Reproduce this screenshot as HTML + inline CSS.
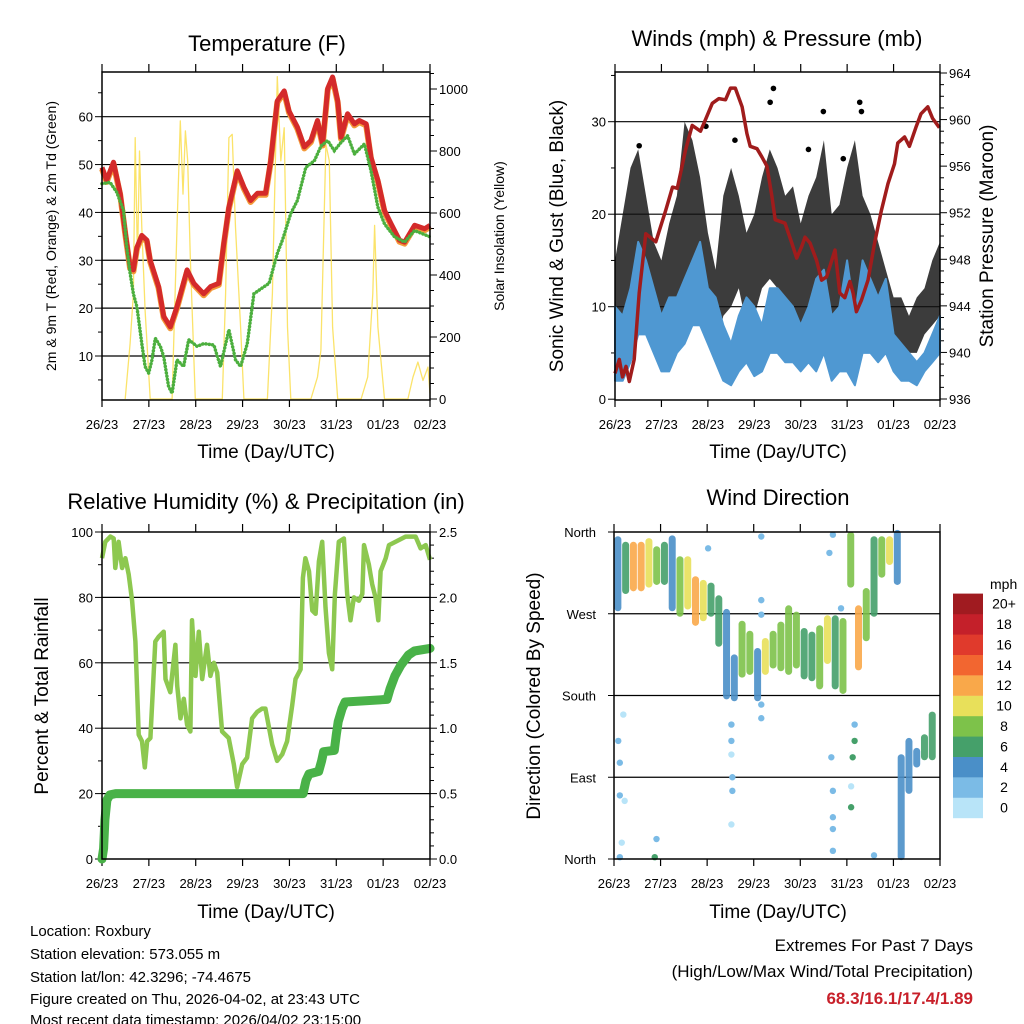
<!DOCTYPE html>
<html><head><meta charset="utf-8"><title>Station Meteogram</title>
<style>
html,body{margin:0;padding:0;background:#fff;}
svg{display:block;font-family:"Liberation Sans",Arial,sans-serif;}
</style></head>
<body>
<svg id="chart" width="1024" height="1024" viewBox="0 0 1024 1024" xmlns="http://www.w3.org/2000/svg">
<rect x="0" y="0" width="1024" height="1024" fill="#fff"/>
<text x="267" y="51" font-size="22" text-anchor="middle">Temperature (F)</text>
<text x="777" y="46" font-size="22" text-anchor="middle">Winds (mph) &amp; Pressure (mb)</text>
<text x="266" y="509" font-size="22" text-anchor="middle">Relative Humidity (%) &amp; Precipitation (in)</text>
<text x="778" y="505" font-size="22" text-anchor="middle">Wind Direction</text>
<text x="266" y="458" font-size="19" text-anchor="middle">Time (Day/UTC)</text>
<text x="778" y="458" font-size="19" text-anchor="middle">Time (Day/UTC)</text>
<text x="266" y="918" font-size="19" text-anchor="middle">Time (Day/UTC)</text>
<text x="778" y="918" font-size="19" text-anchor="middle">Time (Day/UTC)</text>
<text transform="translate(56,236) rotate(-90)" font-size="14" text-anchor="middle">2m &amp; 9m T (Red, Orange) &amp; 2m Td (Green)</text>
<text transform="translate(504,236) rotate(-90)" font-size="14" text-anchor="middle">Solar Insolation (Yellow)</text>
<text transform="translate(563,236) rotate(-90)" font-size="19" text-anchor="middle">Sonic Wind &amp; Gust (Blue, Black)</text>
<text transform="translate(993,236) rotate(-90)" font-size="19" text-anchor="middle">Station Pressure (Maroon)</text>
<text transform="translate(48,696) rotate(-90)" font-size="19" text-anchor="middle">Percent &amp; Total Rainfall</text>
<text transform="translate(540,696) rotate(-90)" font-size="19" text-anchor="middle">Direction (Colored By Speed)</text>
<g font-size="15">
<text x="30" y="936">Location: Roxbury</text>
<text x="30" y="959">Station elevation: 573.055 m</text>
<text x="30" y="982">Station lat/lon: 42.3296; -74.4675</text>
<text x="30" y="1004">Figure created on Thu, 2026-04-02, at 23:43 UTC</text>
<text x="30" y="1025">Most recent data timestamp: 2026/04/02 23:15:00</text>
</g>
<text x="973" y="951" font-size="17" text-anchor="end">Extremes For Past 7 Days</text>
<text x="973" y="977" font-size="17" text-anchor="end">(High/Low/Max Wind/Total Precipitation)</text>
<text x="973" y="1004" font-size="17" font-weight="bold" fill="#c8202a" text-anchor="end">68.3/16.1/17.4/1.89</text>
</svg>
<script>
// ---------- data ----------
const dayLabels = ["26/23","27/23","28/23","29/23","30/23","31/23","01/23","02/23"];
const tempHours = [0,2.4,5.9,9.3,11.9,14.4,16.1,17.9,20.4,23,24.7,29,31.6,35,38.4,43.6,47,52.1,55.6,59.8,62.4,65,69.3,72.7,76.1,79.6,83.8,86.4,89.8,93.3,95.8,100.1,103.6,107,110.4,113,115.6,118.1,120.7,122.4,125.8,129.3,131.8,135.3,137.8,141.3,144.7,148.1,152.4,155,160.1,165.3,168];
const tempF = [49.4,46.7,50.5,44,35.9,28.6,28,32.7,35.2,34.2,30,24.5,18.3,16.1,20.3,28,25.2,23,24.5,25.2,33.5,41.1,48.7,45.3,42.5,44,44,50.8,63.3,65.4,61.2,57.8,53.7,55,59.2,54.3,65.9,68.3,63.3,55.7,60.6,58.5,59.2,58.5,51.5,46.7,40.4,37.6,34.2,33.8,37.3,36.6,37.3];
const dewHours = [0,4.1,7.6,11,12.7,14.4,16.1,17.9,20.4,22.1,23.9,25.6,27.3,29.9,31.6,34.1,35.9,38.4,41.8,44.4,48.7,52.1,57.3,60.7,65,68.4,71,74.4,77.8,81.3,85.6,89.8,92.4,96.7,100.1,104.4,108.8,112.2,115.6,119,122.4,125.8,129.3,134.4,137.8,141.3,144.7,149.8,155,160.1,168];
const dewF = [46,46.3,44.2,40.4,32.7,27.3,23,20.3,12.6,7.8,6.4,9.2,13.7,12,9.9,3.6,2.2,9.2,7.8,13.4,12,12.6,12.3,7.8,15.5,9.2,7.8,12.6,23,24,25.2,31.4,34.2,39.8,42.5,49.4,50.8,53.9,55,52.9,54.6,56,52.2,54.3,48.7,41.1,37.6,34.9,33.8,36.2,34.9];
const solarHours = [11.9,14.4,16.1,17,18.2,19.2,20.4,22.1,24.7,35.9,38.4,40.1,41.5,42.7,43.9,45.3,47.8,61.6,63.3,65,66.7,68.4,71,72.7,84.7,87.3,89.8,91.6,93.3,95,96.7,107,110.4,112.1,114.7,116.4,118.1,120.7,132.7,136.1,138.7,139.6,141.3,144.7,156.7,159.3,161.8,164.4,167,168];
const solarW = [0,179,340,843,446,800,554,286,0,0,554,897,661,865,768,446,0,0,340,843,854,554,232,0,0,340,1040,768,875,232,0,0,71,157,822,768,232,0,0,71,340,560,232,0,0,71,119,60,103,18];

const presHours = [0,2.2,3.9,5.7,7.4,9.9,12.5,15.9,21.1,26.2,29.7,32.2,36.5,39.9,44.2,46.8,50.3,53.7,57.1,59.7,62.2,65.7,68.2,69.9,73.4,75.9,78.5,81.1,82.8,87.9,91.4,93.9,96.5,98.2,100.8,104.2,106.8,109.4,113.7,116.2,118.8,121.4,123.1,124.8,127.4,130.8,134.2,137.7,141.1,144.5,146.2,149.7,152.2,155.7,158.2,161.7,164.2,167.7];
const presMb = [938.2,939.4,937.9,938.8,937.5,939.4,945.1,950.2,949.5,952.2,954.2,954.1,957.4,959.5,959,960,961.4,961.8,961.7,962.7,962.7,961.1,958.8,957.7,957.5,956.8,956,953.4,951.4,951.1,949.4,948.1,949.1,949.9,949.4,947.9,946.2,946.5,948.8,945.1,944.7,946.1,945.1,943.5,944.5,946.2,949.4,952.2,954.5,956.2,958,958.5,957.7,959.4,960.5,961.1,960.1,959.3];
const windStep = 4;
const windHigh = [10,9,12,17,15,12,9,11,11,13,15,17,12,11,8,6,9,11,10,8,12,12,11,10,8,10,13,14,9,10,15,9,15,13,11,13,7,6,5,4,5,7,9];
const windLow  = [2,2,4,7,7,5,3,3,5,6,8,8,6,4,2,1.5,3,4,2.5,3,5,5,4,4,3,4,3,5,2,3,3,1.5,5,5,4,5,3,2,2,1.5,3,4,5];
const gustHigh = [15,20,25,27,22,17,15,19,22,30,28,24,18,14,22,25,22,18,20,24,27,25,22,23,19,22,24,28,20,21,25,28,22,20,17,14,11,11,9,11,12,15,17];
const gustLow  = [6,8,12,15,12,9,7,8,10,11,12,12,8,5,9,10,12,8,9,12,13,12,11,10,8,10,12,12,8,8,10,10,9,9,7,6,5,6,5,5,7,8,9];
const gustOutHours = [81.9,80.2,126.5,107.7,127.4,12.5,47,62,100,118];
const gustOutMph = [33.6,32.1,32.1,31.1,31.1,27.4,29.5,28,27,26];

const rhHours = [0,1.7,4.3,6,6.8,8.5,10.3,12,13.7,15.4,17.1,18.8,20.5,21.9,23.1,24.8,27.3,29.1,31.6,32.5,35,37.6,38.5,40.2,41.9,43.6,45.3,46.1,47.9,49.6,51.3,53.8,55.5,57.3,59,61.5,64.9,67.5,69.2,71.8,74.3,76.9,79.5,82,83.7,87.2,89.7,92.3,94.8,97.4,99.1,101.7,102.9,104.2,106,107.7,109.4,111.1,112.8,114.5,116.2,117.9,119.3,121.3,123.9,125.6,127.3,129,131.6,133.3,134.2,136.7,138.4,140.1,141.5,142.7,145.3,147,150.4,155.5,160.6,163.2,165.8,168];
const rhPct = [92,97,98.6,98,89,97,89,92,87,79,66.5,38,36,28,36,37,66.5,68,69.5,55,51,65.5,53,43,49,41,39,73,56,69.5,55,65.5,56,60,57,39,37,29,22,29,31,43,45,46,46,35,30,32,36,47,55,58,86,92,88,76,75,91,97,77,63,58,81,97,98,81,73,80,79,81,96,90,84,80,73,88,92,96,97,98.6,98.6,95,96,91.5];
const precipHours = [0,0.8,1.5,2.5,4,7,103,104.5,106,111,112.5,113.5,119,120,121,123,124.5,146,147.5,150,153,157,160,168];
const precipIn = [0,0.08,0.3,0.45,0.49,0.5,0.5,0.6,0.65,0.67,0.75,0.82,0.83,0.95,1.05,1.15,1.2,1.22,1.3,1.4,1.48,1.56,1.59,1.61];

const dirStep = 4;
const dirHigh = [352,346,346,346,350,341,346,353,330,330,308,304,301,287,272,222,259,248,229,240,248,258,276,269,251,247,254,265,265,262,357,276,295,352,352,352,359];
const dirLow  = [276,295,298,298,302,305,305,276,270,278,260,265,270,237,179,177,203,206,177,206,213,210,206,213,201,199,190,218,190,185,302,211,243,270,313,327,305];
const dirSpeed = [5,7,12,13,11,8,6,5,8,10,13,11,7,6,4,5,8,9,5,10,8,9,9,8,6,7,9,11,6,8,9,12,8,6,9,10,4];
const dirTailHours = [148,152,156,160,164];
const dirTailHigh = [112,130,119,134,159];
const dirTailLow = [2,75,104,112,112];
const dirTailSpeed = [4,4,5,6,7];
const dirOutHours = [75.9,75.9,75.9,4.8,2.2,3,3,5.5,4,21.9,21,3,60.5,61,61,60.5,60.5,60.5,75.9,75.9,112.8,112.8,112.8,112.8,112,122.2,122.2,123,124,124,112.8,111,48.5,117,134];
const dirOutDeg = [355,285,269,159,130,106,70,64,18,22,2,2,38,75,90,115,130,148,155,170,46,33,9,75,112,57,80,112,130,148,357,337,342,276,4];
const dirOutSpeed = [3,3,3,1,3,3,3,1,1,3,7,3,1,3,3,1,3,3,3,3,3,3,3,3,3,6,1,7,6,3,3,3,3,3,3];
const cbLabels = ["0","2","4","6","8","10","12","14","16","18","20+"];
const cbColors = ["#b8e4f8","#7bbbe6","#4a8fc8","#45a06a","#7dc24a","#e8e05a","#f9a84a","#f26630","#e03a2c","#c4202a","#a01b20"];

// ---------- helpers ----------
const NS = "http://www.w3.org/2000/svg";
const svg = document.getElementById("chart");
function mk(tag, attrs, parent) {
  const e = document.createElementNS(NS, tag);
  for (const k in attrs) e.setAttribute(k, attrs[k]);
  (parent || svg).appendChild(e);
  return e;
}
const P = {
  tl: {x0:102, x1:430, y0:72, y1:400},
  tr: {x0:615, x1:940, y0:72, y1:400},
  bl: {x0:102, x1:430, y0:532, y1:859},
  br: {x0:614, x1:940, y0:532, y1:859}
};
function xs(p, h) { return p.x0 + (p.x1 - p.x0) * h / 168; }
function lin(v, v0, y0, v1, y1) { return y0 + (v - v0) * (y1 - y0) / (v1 - v0); }
const tempY = v => lin(v, 10, 356, 60, 116.7);
const solarY = v => lin(v, 0, 399, 1000, 89);
const windY = v => lin(v, 0, 399.2, 30, 121.7);
const presY = v => lin(v, 936, 399, 964, 73);
const rhY = v => lin(v, 0, 859, 100, 532);
const precY = v => lin(v, 0, 859, 0.5, 793.6);
const dirY = v => lin(v, 0, 859, 360, 532);
function pathFrom(hs, vs, p, fy) {
  let d = "";
  for (let i = 0; i < hs.length; i++) d += (i ? "L" : "M") + xs(p, hs[i]).toFixed(1) + "," + fy(vs[i]).toFixed(1);
  return d;
}
function speedColor(s) { return cbColors[Math.min(10, Math.max(0, Math.floor(s / 2)))]; }

// ---------- axes ----------
function frame(p, name) {
  const g = mk("g", {});
  
  
  for (let i = 0; i < dayLabels.length; i++) {
    const x = xs(p, i * 24);
    const t1 = mk("line", {x1:x, x2:x, y1:p.y0 - 8, y2:p.y0, stroke:"#000", "stroke-width":1.2}, g);
    
    
    const t2 = mk("line", {x1:x, x2:x, y1:p.y1, y2:p.y1 + 7, stroke:"#000", "stroke-width":1.2}, g);
    
    
    const lb = mk("text", {x:x, y:p.y1 + 29, "font-size":13, "text-anchor":"middle"}, g);
    lb.textContent = dayLabels[i];
    
    
  }
  return g;
}
function yAxis(g, p, side, vals, fy, labelFn, major, withGrid) {
  vals.forEach(v => {
    const y = fy(v);
    if (y < p.y0 - 0.5 || y > p.y1 + 0.5) return;
    const isMaj = major(v);
    const len = isMaj ? 7 : 4;
    const x = side === "left" ? p.x0 : p.x1;
    const t = mk("line", {x1:x, x2: side === "left" ? x - len : x + len, y1:y, y2:y, stroke:"#000", "stroke-width":1}, g);
    
    
    if (isMaj && withGrid && y > p.y0 + 2 && y < p.y1 - 2) {
      const gl = mk("line", {x1:p.x0, x2:p.x1, y1:y, y2:y, stroke:"#000", "stroke-width":1.2}, g);
      
      
    }
    if (isMaj && labelFn) {
      const lb = mk("text", {x: side === "left" ? p.x0 - 9 : p.x1 + 9, y:y + 5, "font-size":13, "text-anchor": side === "left" ? "end" : "start"}, g);
      lb.textContent = labelFn(v);
      
      
    }
  });
}
function range(a, b, s) { const r = []; for (let v = a; v <= b + 1e-9; v += s) r.push(Math.round(v * 100) / 100); return r; }
function border(p) {
  const r = mk("rect", {x:p.x0, y:p.y0, width:p.x1 - p.x0, height:p.y1 - p.y0, fill:"none", stroke:"#000", "stroke-width":1.5});
  
  
}

// ---------- temperature panel ----------
const gT = frame(P.tl, "temperature");
yAxis(gT, P.tl, "left", range(5, 70, 5), tempY, v => String(v), v => v % 10 === 0, true);
yAxis(gT, P.tl, "right", range(0, 1050, 50), solarY, v => String(v), v => v % 200 === 0, false);
const solarLine = mk("path", {d: pathFrom(solarHours, solarW, P.tl, solarY), fill:"none", stroke:"#fbe05a", "stroke-width":1.3, "stroke-linejoin":"round", opacity:0.9});


const orangeLine = mk("path", {d: pathFrom(tempHours, tempF, P.tl, tempY), fill:"none", stroke:"#f39a3a", "stroke-width":6, "stroke-linejoin":"round", transform:"translate(0,1.5)"});


const redLine = mk("path", {d: pathFrom(tempHours, tempF, P.tl, tempY), fill:"none", stroke:"#d42a2a", "stroke-width":5, "stroke-linejoin":"round"});


const dewLine = mk("path", {d: pathFrom(dewHours, dewF, P.tl, tempY), fill:"none", stroke:"#4caf3e", "stroke-width":3.5, "stroke-dasharray":"0.1 3.2", "stroke-linecap":"round"});


border(P.tl);

// ---------- wind panel ----------
const gW = frame(P.tr, "wind");
yAxis(gW, P.tr, "left", range(0, 35, 5), windY, v => String(v), v => v % 10 === 0, true);
yAxis(gW, P.tr, "right", range(936, 965, 1), presY, v => String(v), v => (v - 936) % 4 === 0, false);
function bandPath(hi, lo, step, p, fy) {
  let d = "";
  for (let i = 0; i < hi.length; i++) d += (i ? "L" : "M") + xs(p, Math.min(168, i * step)).toFixed(1) + "," + fy(hi[i]).toFixed(1);
  for (let i = lo.length - 1; i >= 0; i--) d += "L" + xs(p, Math.min(168, i * step)).toFixed(1) + "," + fy(lo[i]).toFixed(1);
  return d + "Z";
}
const gustBand = mk("path", {d: bandPath(gustHigh, gustLow, windStep, P.tr, windY), fill:"#111", stroke:"none", opacity:0.82});


gustOutHours.forEach((h, i) => {
  const c = mk("circle", {cx: xs(P.tr, h), cy: windY(gustOutMph[i]), r:2.8, fill:"#000"});
  
  
});
const windBand = mk("path", {d: bandPath(windHigh, windLow, windStep, P.tr, windY), fill:"#4f98d2", stroke:"#4f98d2", "stroke-width":2, "stroke-linejoin":"round"});


const presLine = mk("path", {d: pathFrom(presHours, presMb, P.tr, presY), fill:"none", stroke:"#a01c1c", "stroke-width":3.5, "stroke-linejoin":"round"});


border(P.tr);

// ---------- humidity panel ----------
const gR = frame(P.bl, "humidity");
yAxis(gR, P.bl, "left", range(0, 100, 10), rhY, v => String(v), v => v % 20 === 0, true);
yAxis(gR, P.bl, "right", range(0, 2.5, 0.1), precY, v => v.toFixed(1), v => Math.abs(v * 2 - Math.round(v * 2)) < 1e-6, false);
const rhLine = mk("path", {d: pathFrom(rhHours, rhPct, P.bl, rhY), fill:"none", stroke:"#8dc850", "stroke-width":4.5, "stroke-linejoin":"round"});


const prLine = mk("path", {d: pathFrom(precipHours, precipIn, P.bl, precY), fill:"none", stroke:"#49b248", "stroke-width":9, "stroke-linejoin":"round", "stroke-linecap":"round"});


border(P.bl);

// ---------- wind direction panel ----------
const gD = frame(P.br, "direction");
const dirNames = ["North","East","South","West","North"];
[0, 90, 180, 270, 360].forEach((v, i) => {
  const y = dirY(v);
  if (v > 0 && v < 360) {
    const gl = mk("line", {x1:P.br.x0, x2:P.br.x1, y1:y, y2:y, stroke:"#000", "stroke-width":1.2}, gD);
    
    
  }
  const t = mk("line", {x1:P.br.x0 - 6, x2:P.br.x0, y1:y, y2:y, stroke:"#000"}, gD);
  
  
  const lb = mk("text", {x:P.br.x0 - 18, y:y + 5, "font-size":13, "text-anchor":"end"}, gD);
  lb.textContent = dirNames[i];
  
  
});
function dirCapsule(h, hi, lo, s) {
  const x = xs(P.br, h);
  const yT = dirY(hi), yB = dirY(lo);
  const r = mk("rect", {x:x - 3.5, y:yT - 3, width:7, height:Math.max(6, yB - yT + 6), rx:3.5, fill:speedColor(s), opacity:0.9});
  
  
}
dirHigh.forEach((hi, i) => dirCapsule(Math.min(166, i * dirStep + 2), hi, dirLow[i], dirSpeed[i]));
dirTailHours.forEach((h, i) => dirCapsule(h, dirTailHigh[i], dirTailLow[i], dirTailSpeed[i]));
dirOutHours.forEach((h, i) => {
  const c = mk("circle", {cx: xs(P.br, h), cy: dirY(dirOutDeg[i]), r:3.2, fill:speedColor(dirOutSpeed[i])});
  
  
});
border(P.br);

// colorbar
const cbTitle = mk("text", {x:990, y:589, "font-size":14});
cbTitle.textContent = "mph";


for (let i = 0; i < cbColors.length; i++) {
  const y = 818 - (i + 1) * 20.4;
  const r = mk("rect", {x:953, y:y, width:30, height:20.6, fill:cbColors[i]});
  
  
  const t = mk("text", {x:1004, y:y + 15, "font-size":14, "text-anchor":"middle"});
  t.textContent = cbLabels[i];
  
  
}
</script>
</body></html>
